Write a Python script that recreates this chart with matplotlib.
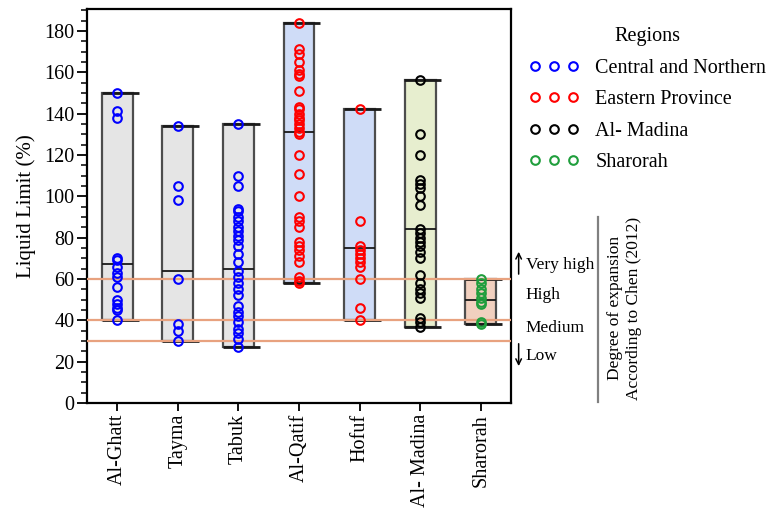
import numpy as np
import matplotlib
matplotlib.use('Agg')
import matplotlib.pyplot as plt
from matplotlib.lines import Line2D
from matplotlib.patches import Rectangle
from matplotlib.ticker import MultipleLocator

plt.rcParams['font.family'] = ['Liberation Serif', 'DejaVu Serif']

# Sites on the x axis and the region each one belongs to
sites = ['Al-Ghatt', 'Tayma', 'Tabuk', 'Al-Qatif', 'Hofuf', 'Al- Madina', 'Sharorah']
site_region = [0, 0, 0, 1, 1, 2, 3]

regions = ['Central and Northern', 'Eastern Province', 'Al- Madina', 'Sharorah']
region_colors = ['#0000ff', '#ff0000', '#000000', '#1f9e3c']
box_colors = ['#e5e5e5', '#e5e5e5', '#e5e5e5', '#cfdcf7', '#cfdcf7', '#e7eecf', '#f1d0bf']

# Liquid limit (%) of the samples at each site
ll_ghatt = [150, 141, 138, 70, 69, 66, 63, 61, 56, 50, 48, 46, 45, 40]
ll_tayma = [134, 105, 98, 60, 38, 35, 30]
ll_tabuk = [135, 110, 105, 94, 93, 90, 88, 85, 83, 81, 79, 76, 72, 68, 64, 61,
            58, 55, 52, 47, 44, 42, 39, 36, 34, 31, 27]
ll_qatif = [184, 171, 169, 165, 161, 159, 158, 151, 143, 142, 140, 138, 137, 135,
            133, 131, 130, 120, 111, 100, 90, 88, 85, 78, 76, 74, 71, 68, 61, 59, 58]
ll_hofuf = [142, 88, 76, 74, 72, 70, 68, 66, 60, 46, 40]
ll_madina = [156, 130, 120, 108, 106, 104, 100, 96, 84, 82, 80, 78, 76, 73, 70,
             62, 58, 55, 53, 51, 41, 39, 37]
ll_sharorah = [60, 58, 55, 53, 51, 49, 48, 39, 38]
site_values = [ll_ghatt, ll_tayma, ll_tabuk, ll_qatif, ll_hofuf, ll_madina, ll_sharorah]

# line drawn across each box
centre_line = [67, 64, 65, 131, 75, 84, 50]

# Chen (2012) limits between expansion classes
class_limits = [30, 40, 60]

fig = plt.figure(figsize=(7.79, 5.08), dpi=100)
ax = fig.add_axes([0.1117, 0.2067, 0.5443, 0.7753])

w = 0.51
for i, vals in enumerate(site_values):
    lo, hi = min(vals), max(vals)
    ax.add_patch(Rectangle((i - w / 2, lo), w, hi - lo, facecolor=box_colors[i],
                           edgecolor='#4d4d4d', lw=1.6, zorder=1))
    ax.hlines([lo, hi], i - 0.26, i + 0.35, color='#1a1a1a', lw=2, zorder=2)
    ax.hlines(centre_line[i], i - w / 2, i + w / 2, color='#1a1a1a', lw=1.3, zorder=2)

for lim in class_limits:
    ax.axhline(lim, color='#e8a27f', lw=1.6, zorder=3)

for i, vals in enumerate(site_values):
    ax.plot(np.full(len(vals), i), vals, ls='none', marker='o', ms=6.2,
            mfc='none', mec=region_colors[site_region[i]], mew=1.5, zorder=4)

ax.set_xlim(-0.5, 6.5)
ax.set_ylim(0, 190.5)
ax.set_xticks(range(len(sites)))
ax.set_xticklabels(sites, rotation=90, fontsize=14.5)
ax.yaxis.set_major_locator(MultipleLocator(20))
ax.yaxis.set_minor_locator(MultipleLocator(5))
ax.tick_params(axis='y', which='major', length=7, width=1.3, labelsize=14.5, pad=2)
ax.tick_params(axis='y', which='minor', length=4, width=1.1)
ax.tick_params(axis='x', which='major', length=6, width=1.3, pad=2)
ax.set_ylabel('Liquid Limit (%)', fontsize=15, labelpad=6)
for sp in ax.spines.values():
    sp.set_linewidth(1.6)

# expansion classes on the right of the plot
tr = ax.get_yaxis_transform()
ax.text(1.035, 66.8, 'Very high', transform=tr, fontsize=12.5, va='center', ha='left')
ax.text(1.035, 52.2, 'High', transform=tr, fontsize=12.5, va='center', ha='left')
ax.text(1.035, 36.3, 'Medium', transform=tr, fontsize=12.5, va='center', ha='left')
ax.text(1.035, 22.7, 'Low', transform=tr, fontsize=12.5, va='center', ha='left')
ax.annotate('', xy=(1.018, 74.5), xytext=(1.018, 61), xycoords=tr, textcoords=tr,
            arrowprops=dict(arrowstyle='->', lw=1.1, color='k'))
ax.annotate('', xy=(1.018, 16.5), xytext=(1.018, 30), xycoords=tr, textcoords=tr,
            arrowprops=dict(arrowstyle='->', lw=1.1, color='k'))

fig.add_artist(Line2D([598 / 779, 598 / 779], [1 - 217 / 508, 1 - 402 / 508],
                      color='#808080', lw=1.6))
fig.text(615 / 779, 1 - 308 / 508, 'Degree of expansion', rotation=90,
         ha='center', va='center', fontsize=12.5)
fig.text(634 / 779, 1 - 308 / 508, 'According to Chen (2012)', rotation=90,
         ha='center', va='center', fontsize=12.5)

handles = [Line2D([], [], ls='none', marker='o', ms=6.2, mfc='none', mec=c, mew=1.5)
           for c in region_colors]
fig.legend(handles, regions, title='Regions', numpoints=3, frameon=False,
           loc='upper left', bbox_to_anchor=(529 / 779, 1 - 27 / 508),
           fontsize=14.5, title_fontsize=14.5, handlelength=2.5,
           handletextpad=0.8, labelspacing=0.62, borderpad=0, borderaxespad=0)

fig.savefig('out.png', dpi=100)
